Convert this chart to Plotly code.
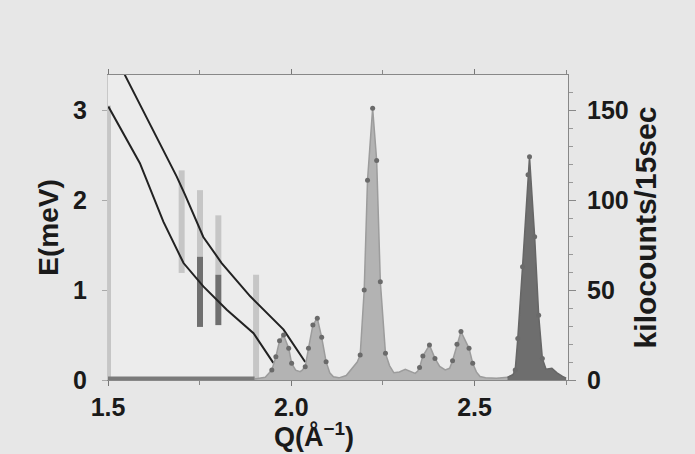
import plotly.graph_objects as go

# ---------------- data ----------------
# intensity profile (kilocounts / 15 sec) vs Q
Q_spec = [1.500, 1.600, 1.700, 1.800, 1.900, 1.910, 1.920, 1.929, 1.947, 1.958, 1.968, 1.979,
          1.993, 2.001, 2.012, 2.024, 2.030, 2.038, 2.047, 2.059, 2.071, 2.083, 2.095, 2.105,
          2.115, 2.130, 2.150, 2.165, 2.180, 2.188, 2.199, 2.208, 2.222, 2.233, 2.243, 2.257,
          2.268, 2.280, 2.295, 2.311, 2.325, 2.338, 2.345, 2.350, 2.359, 2.377, 2.392, 2.405,
          2.420, 2.432, 2.440, 2.452, 2.463, 2.485, 2.495, 2.505, 2.515, 2.530, 2.560, 2.590,
          2.605, 2.611, 2.618, 2.631, 2.646, 2.650, 2.664, 2.675, 2.685, 2.695, 2.711, 2.725,
          2.740, 2.750]
I_spec = [0.6, 0.6, 0.6, 0.6, 0.6, 0.8, 1.0, 1.5, 5.6, 12.9, 21.8, 25.0,
          17.6, 9.3, 5.5, 4.6, 5.5, 7.4, 17.6, 30.6, 34.3, 23.7, 10.2, 4.0,
          1.8, 1.2, 2.5, 6.0, 10.0, 13.9, 50.0, 111.0, 151.0, 122.0, 54.6, 14.8,
          8.0, 4.0, 4.5, 5.9, 4.8, 3.7, 5.0, 7.0, 13.3, 19.4, 12.0, 7.5,
          5.6, 6.5, 10.7, 19.8, 26.9, 17.6, 9.3, 4.5, 1.9, 1.2, 1.0, 1.5,
          3.0, 5.6, 23.0, 63.0, 114.0, 124.0, 79.6, 36.0, 12.0, 6.0, 6.5, 4.0,
          2.0, 1.0]

# measured points (dots)
Q_pts = [1.947, 1.958, 1.968, 1.979, 1.993, 2.001, 2.038, 2.047, 2.059, 2.071, 2.083, 2.095,
         2.188, 2.199, 2.208, 2.222, 2.233, 2.243, 2.257, 2.350, 2.359, 2.377, 2.392,
         2.440, 2.452, 2.463, 2.485, 2.495, 2.611, 2.618, 2.631, 2.646, 2.650, 2.664, 2.675, 2.685]
I_pts = [5.6, 12.9, 21.8, 25.0, 17.6, 9.3, 7.4, 17.6, 30.6, 34.3, 23.7, 10.2,
         13.9, 50.0, 111.0, 151.0, 122.0, 54.6, 14.8, 7.0, 13.3, 19.4, 12.0,
         10.7, 19.8, 26.9, 17.6, 9.3, 5.6, 23.0, 63.0, 114.0, 124.0, 79.6, 36.0, 12.0]

# dispersion curves E(Q) in meV
Q_upper = [1.535, 1.546, 1.6875, 1.710, 1.760, 1.810, 1.888, 1.979, 2.038]
E_upper = [3.58, 3.39, 2.26, 2.06, 1.59, 1.30, 0.93, 0.56, 0.20]
Q_lower = [1.501, 1.587, 1.651, 1.706, 1.760, 1.824, 1.897, 1.951]
E_lower = [3.04, 2.41, 1.76, 1.30, 1.04, 0.78, 0.52, 0.19]

# energy-range bars
Q_bar_light = [1.500, 1.701, 1.751, 1.801, 1.904]
E_bar_light_lo = [0.00, 1.19, 1.37, 1.17, 0.00]
E_bar_light_hi = [3.05, 2.33, 2.11, 1.83, 1.17]
Q_bar_dark = [1.751, 1.801]
E_bar_dark_lo = [0.59, 0.61]
E_bar_dark_hi = [1.37, 1.17]

x_ticks = [1.5, 2.0, 2.5]
x_ticklabels = ["1.5", "2.0", "2.5"]
E_ticks = [0, 1, 2, 3]
I_ticks = [0, 50, 100, 150]

# ---------------- figure ----------------
FONT = "Liberation Sans"
fig = go.Figure()

def seg(xs, lo, hi):
    X, Y = [], []
    for x, a, b in zip(xs, lo, hi):
        X += [x, x, None]
        Y += [a, b, None]
    return X, Y

left_idx = [i for i, q in enumerate(Q_spec) if q <= 1.905]
mid_idx = [i for i, q in enumerate(Q_spec) if 1.90 <= q <= 2.605]
right_idx = [i for i, q in enumerate(Q_spec) if q >= 2.59]

fig.add_trace(go.Scatter(x=[Q_spec[i] for i in mid_idx], y=[I_spec[i] for i in mid_idx],
                         yaxis="y2", mode="lines", fill="tozeroy",
                         fillcolor="#b3b3b3", line=dict(color="#9c9c9c", width=1.5),
                         showlegend=False, hoverinfo="skip"))
fig.add_trace(go.Scatter(x=[Q_spec[i] for i in right_idx], y=[I_spec[i] for i in right_idx],
                         yaxis="y2", mode="lines", fill="tozeroy",
                         fillcolor="#6e6e6e", line=dict(color="#666666", width=1.5),
                         showlegend=False, hoverinfo="skip"))
fig.add_trace(go.Scatter(x=[Q_spec[i] for i in left_idx], y=[I_spec[i] for i in left_idx],
                         yaxis="y2", mode="lines",
                         line=dict(color="#7a7a7a", width=5),
                         showlegend=False, hoverinfo="skip"))
fig.add_trace(go.Scatter(x=Q_pts, y=I_pts, yaxis="y2", mode="markers",
                         marker=dict(color="#6a6a6a", size=5),
                         showlegend=False, hoverinfo="skip"))

# bars
bx, by = seg(Q_bar_light, E_bar_light_lo, E_bar_light_hi)
fig.add_trace(go.Scatter(x=bx, y=by, mode="lines", line=dict(color="#c6c6c6", width=6),
                         showlegend=False, hoverinfo="skip"))
bx, by = seg(Q_bar_dark, E_bar_dark_lo, E_bar_dark_hi)
fig.add_trace(go.Scatter(x=bx, y=by, mode="lines", line=dict(color="#6f6f6f", width=6),
                         showlegend=False, hoverinfo="skip"))

# dispersion curves
for qx, ey in [(Q_upper, E_upper), (Q_lower, E_lower)]:
    fig.add_trace(go.Scatter(x=qx, y=ey, mode="lines", line=dict(color="#222222", width=2),
                             showlegend=False, hoverinfo="skip"))

tickfont = dict(family=FONT, size=25, color="#1a1a1a", weight="bold")

fig.update_layout(
    width=695, height=454,
    margin=dict(l=108, r=127, t=75, b=74, autoexpand=False),
    paper_bgcolor="#e7e7e7", plot_bgcolor="#ececec",
    xaxis=dict(range=[1.5, 2.755], tickvals=x_ticks, ticktext=x_ticklabels, automargin=False,
               ticks="outside", ticklen=5, tickcolor="#777", showgrid=False, zeroline=False,
               showline=True, linecolor="#888", linewidth=1, mirror="ticks",
               minor=dict(dtick=0.25, tick0=1.5, ticks="outside", ticklen=4, tickcolor="#888"),
               tickfont=tickfont, ticklabelstandoff=0),
    yaxis=dict(range=[0, 3.39], tickvals=E_ticks, ticks="outside", ticklen=5, automargin=False,
               tickcolor="#aaa", showgrid=False, zeroline=False,
               showline=True, linecolor="#c8c8c8", linewidth=1,
               tickfont=tickfont, ticklabelstandoff=10,
               title=dict(text="E(meV)", font=dict(family=FONT, size=28, color="#1a1a1a",
                                                    weight="bold"), standoff=6)),
    yaxis2=dict(range=[0, 169.5], tickvals=I_ticks, overlaying="y", side="right",
                automargin=False,
                ticks="outside", ticklen=7, tickcolor="#888", showgrid=False, zeroline=False,
                showline=True, linecolor="#888", linewidth=1,
                minor=dict(dtick=10, ticks="outside", ticklen=4, tickcolor="#999"),
                tickfont=tickfont, ticklabelstandoff=6,
                title=dict(text="kilocounts/15sec", font=dict(family=FONT, size=30,
                                                              color="#1a1a1a", weight="bold"),
                           standoff=4)),
    annotations=[dict(text="Q(Å<sup>−1</sup>)", xref="paper", yref="paper",
                      x=(314 - 108) / 460, y=(380 - 454) / 305, xanchor="center",
                      yanchor="bottom", showarrow=False,
                      font=dict(family=FONT, size=27, color="#1a1a1a", weight="bold"))],
)

fig.write_html("out.html", config={"displayModeBar": False},
               post_script="document.body.style.margin='0';document.body.style.padding='0';")
